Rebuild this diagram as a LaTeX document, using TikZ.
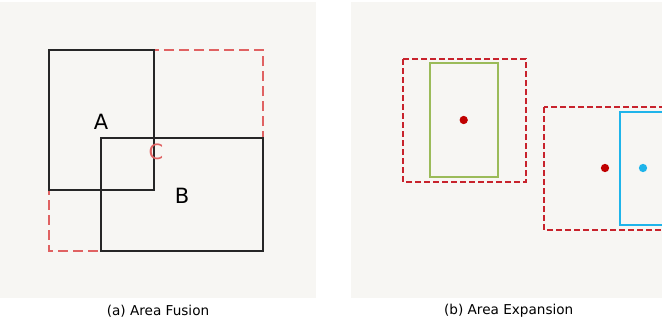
\documentclass[tikz,border=0pt]{standalone}
\usepackage{fontspec}
\setmainfont{DejaVu Sans}
\definecolor{bg}{HTML}{F7F6F3}
\definecolor{reda}{HTML}{E06262}
\definecolor{redb}{HTML}{C8232C}
\definecolor{dotred}{HTML}{C00000}
\definecolor{grn}{HTML}{9BBB59}
\definecolor{cyn}{HTML}{1FB4EA}
\tikzset{
  boxa/.style={draw=black!85, line width=2pt},
  fusebox/.style={draw=reda, line width=2pt, dash pattern=on 10pt off 5pt},
  expbox/.style={draw=redb, line width=2pt, dash pattern=on 6pt off 3pt},
  lbl/.style={font=\fontsize{21}{24}\selectfont, inner sep=0pt},
  captext/.style={font=\fontsize{13.6}{16}\selectfont, inner sep=0pt},
  dotnode/.style={circle, inner sep=0pt, minimum size=8.3pt}
}
\begin{document}
\begin{tikzpicture}[x=1pt,y=-1pt]
\useasboundingbox (0,0) rectangle (662,325);
\fill[bg] (0,2) rectangle (316,298);
\fill[bg] (351,2) rectangle (662,298);
% panel (a)
\draw[fusebox] (49,50) rectangle (263,251);
\draw[boxa] (49,50) rectangle (154,190);
\draw[boxa] (101,138) rectangle (263,251);
\node[lbl] (A) at (101,122) {A};
\node[lbl, text=reda] (C) at (156,152) {C};
\node[lbl] (B) at (182,196) {B};
\node[captext] (capa) at (158,311) {(a) Area Fusion};
% panel (b)
\begin{scope}
\clip (351,0) rectangle (662,325);
\draw[expbox] (403,59) rectangle (526,182);
\draw[grn, line width=2pt] (430,63) rectangle (498,177);
\node[dotnode, fill=dotred] (d1) at (463.7,120) {};
\draw[expbox] (544,107) rectangle (720,230);
\draw[cyn, line width=2pt] (620,112) rectangle (720,225);
\node[dotnode, fill=dotred] (d2) at (605,168) {};
\node[dotnode, fill=cyn] (d3) at (643,168) {};
\end{scope}
\node[captext] (capb) at (508.7,311) {(b) Area Expansion};
\end{tikzpicture}
\end{document}
